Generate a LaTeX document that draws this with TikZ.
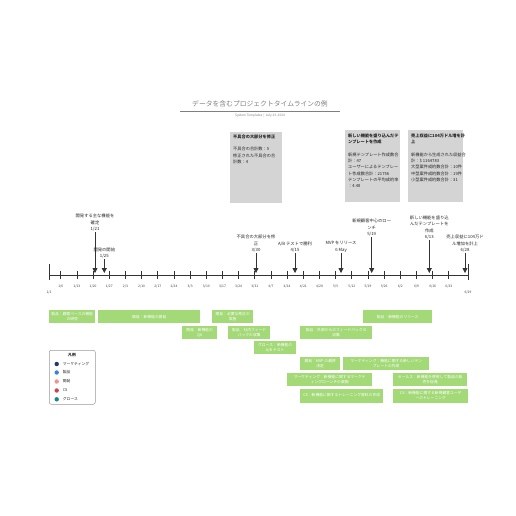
\documentclass[tikz,border=0pt]{standalone}
\usepackage{fontspec}
\setmainfont{Noto Sans CJK JP}
\usetikzlibrary{arrows.meta,shapes.geometric}
\definecolor{barg}{HTML}{A3D977}
\definecolor{gbox}{HTML}{D4D4D4}
\definecolor{axc}{HTML}{333333}
\definecolor{ttl}{HTML}{808080}
\definecolor{cmkt}{HTML}{1F3A6E}
\definecolor{cprod}{HTML}{3B82D6}
\definecolor{cdev}{HTML}{F29191}
\definecolor{ccs}{HTML}{CF434B}
\definecolor{cgro}{HTML}{17888A}
\tikzset{
  bar/.style={fill=barg, text=white, align=center, inner sep=0.5pt, anchor=north west,
    font=\fontsize{3.8}{5.2}\selectfont},
  graybox/.style={fill=gbox, inner sep=0pt, anchor=north west},
  boxtext/.style={anchor=north west, align=left, inner sep=0pt, text=black!85,
    font=\fontsize{4.2}{6.3}\selectfont},
  mlabel/.style={anchor=south, align=center, inner sep=0.5pt, text=black!85,
    font=\fontsize{4.3}{6.3}\selectfont},
  marrow/.style={draw=axc, line width=0.8pt, -{Triangle[width=5pt,length=5pt]}},
  ticklab/.style={text=black!75, inner sep=0pt, font=\fontsize{3.3}{4}\selectfont},
  legtext/.style={anchor=west, inner sep=0pt, text=black!85, font=\fontsize{3.8}{4.5}\selectfont},
}
\begin{document}
\begin{tikzpicture}[x=1pt,y=-1pt]
\useasboundingbox[fill=white] (0,0) rectangle (516,516);

% title
\node[text=ttl, inner sep=0pt, font=\fontsize{6.8}{8}\selectfont] (title) at (260,104) {データを含むプロジェクトタイムラインの例};
\coordinate (tl0) at (180,111);
\coordinate (tl1) at (340,111);
\draw[draw=ttl, line width=0.6pt] (tl0) -- (tl1);
\node[text=ttl, inner sep=0pt, font=\fontsize{3.2}{4}\selectfont] (subtitle) at (260,116) {System Templates \,|\, July 23, 2024};

% gray data boxes
\node[graybox, minimum width=52pt, minimum height=71pt] (g1) at (230,131.5) {};
\node[boxtext] (g1t) at (233,134.5) {\textbf{不具合の大部分を修正}\\[6.3pt]不具合の合計数：5\\修正された不具合の合\\計数：4};
\node[graybox, minimum width=55pt, minimum height=72pt] (g2) at (345,130) {};
\node[boxtext] (g2t) at (348,133.5) {\textbf{新しい機能を盛り込んだテ}\\\textbf{ンプレートを作成}\\[6.3pt]新規テンプレート作成数合\\計：47\\ユーザーによるテンプレー\\ト作成数合計：21756\\テンプレートの平均成約率\\：4.48};
\node[graybox, minimum width=55pt, minimum height=72pt] (g3) at (408,130) {};
\node[boxtext] (g3t) at (411,133.5) {\textbf{売上収益に104万ドル増を計}\\\textbf{上}\\[6.3pt]新機能から生成された収益合\\計：\$ 1164783\\大型案件成約数合計：10件\\中型案件成約数合計：19件\\小型案件成約数合計：31};

% axis
\coordinate (ax0) at (49,275);
\coordinate (ax1) at (468,275);
\draw[draw=axc, line width=0.8pt] (ax0) -- (ax1);
\coordinate (e0a) at (49,264); \coordinate (e0b) at (49,280);
\coordinate (e1a) at (468,264); \coordinate (e1b) at (468,280);
\draw[draw=axc, line width=0.8pt] (e0a) -- (e0b);
\draw[draw=axc, line width=0.8pt] (e1a) -- (e1b);
\foreach \lab [count=\k from 0] in {1/6,1/13,1/20,1/27,2/3,2/10,2/17,2/24,3/3,3/10,3/17,3/24,3/31,4/7,4/14,4/21,4/28,5/5,5/12,5/19,5/26,6/2,6/9,6/16,6/23}{
  \pgfmathsetmacro{\xx}{60.75+16.17*\k}
  \coordinate (ta\k) at (\xx,270.7);
  \coordinate (tb\k) at (\xx,279.3);
  \draw[draw=axc, line width=0.7pt] (ta\k) -- (tb\k);
  \node[ticklab] (tl\k) at (\xx,286) {\lab};
}
\node[ticklab] (tstart) at (49,292) {1/1};
\node[ticklab] (tend) at (468,292) {6/29};

% milestones
\node[mlabel] (m1) at (95,232) {開発する主な機能を\\確定\\1/21};
\coordinate (p1) at (95,273);
\draw[marrow] (m1.south) -- (p1);
\node[mlabel] (m2) at (104.3,259) {開発の開始\\1/25};
\coordinate (p2) at (104.3,273);
\draw[marrow] (m2.south) -- (p2);
\node[mlabel] (m3) at (256,253) {不具合の大部分を修\\正\\3/30};
\coordinate (p3) at (256,273);
\draw[marrow] (m3.south) -- (p3);
\node[mlabel] (m4) at (295,253) {A/B テストで勝利\\4/15};
\coordinate (p4) at (295,273);
\draw[marrow] (m4.south) -- (p4);
\node[mlabel] (m5) at (341,253) {MVP をリリース\\6 May};
\coordinate (p5) at (341,273);
\draw[marrow] (m5.south) -- (p5);
\node[mlabel] (m6) at (371.7,237) {新規顧客中心のロー\\ンチ\\5/19};
\coordinate (p6) at (371.7,273);
\draw[marrow] (m6.south) -- (p6);
\node[mlabel] (m7) at (429.3,240) {新しい機能を盛り込\\んだテンプレートを\\作成\\6/13};
\coordinate (p7) at (429.3,273);
\draw[marrow] (m7.south) -- (p7);
\node[mlabel] (m8) at (465,253) {売上収益に104万ド\\ル増加を計上\\6/28};
\coordinate (p8) at (465,273);
\draw[marrow] (m8.south) -- (p8);

% task bars
\node[bar, minimum width=46pt, minimum height=13pt] (b1) at (49,310) {製品：顧客ベースの機能\\の研究};
\node[bar, minimum width=102pt, minimum height=13pt] (b2) at (98,310) {開発：新機能の開発};
\node[bar, minimum width=41pt, minimum height=13pt] (b3) at (212,310) {開発：必要な修正の\\実施};
\node[bar, minimum width=69pt, minimum height=13pt] (b4) at (363,310) {製品：新機能のリリース};
\node[bar, minimum width=35pt, minimum height=13pt] (b5) at (182,326) {開発：新機能の\\QA};
\node[bar, minimum width=42pt, minimum height=13pt] (b6) at (228,326) {製品：社内フィード\\バックの収集};
\node[bar, minimum width=72pt, minimum height=13pt] (b7) at (300,326) {製品：外部からのフィードバックの\\収集};
\node[bar, minimum width=42pt, minimum height=13pt] (b8) at (254,341) {グロース：新機能の\\A/B テスト};
\node[bar, minimum width=40pt, minimum height=13pt] (b9) at (300,357) {開発：MVP の最終\\決定};
\node[bar, minimum width=86pt, minimum height=13pt] (b10) at (343,357) {マーケティング：機能に関する新しいテン\\プレートの作成};
\node[bar, minimum width=85pt, minimum height=13pt] (b11) at (287,373) {マーケティング：新機能に関するマーケテ\\ィングローンチの展開};
\node[bar, minimum width=74pt, minimum height=13pt] (b12) at (393,373) {セールス：新機能を使用して製品の販\\売を促進};
\node[bar, minimum width=83pt, minimum height=14pt] (b13) at (300,388.3) {CS：新機能に関するトレーニング資料の作成};
\node[bar, minimum width=75pt, minimum height=14pt] (b14) at (393,388.3) {CS：新機能に関する新規顧客ユーザ\\ーのトレーニング};

% legend
\node[draw=black!40, line width=0.5pt, rounded corners=2pt, fill=white, anchor=north west,
  minimum width=46pt, minimum height=54pt, inner sep=0pt] (leg) at (49,350) {};
\node[inner sep=0pt, text=black!85, font=\fontsize{3.8}{4.5}\selectfont\bfseries] (legt) at (72,355) {凡例};
\fill[cmkt] (56.7,364) circle (2.2);
\node[legtext] (l1) at (62.7,364) {マーケティング};
\fill[cprod] (56.7,372.5) circle (2.2);
\node[legtext] (l2) at (62.7,372.5) {製品};
\fill[cdev] (56.7,381.5) circle (2.2);
\node[legtext] (l3) at (62.7,381.5) {開発};
\fill[ccs] (56.7,390.5) circle (2.2);
\node[legtext] (l4) at (62.7,390.5) {CS};
\fill[cgro] (56.7,399.3) circle (2.2);
\node[legtext] (l5) at (62.7,399.3) {グロース};
\end{tikzpicture}
\end{document}
